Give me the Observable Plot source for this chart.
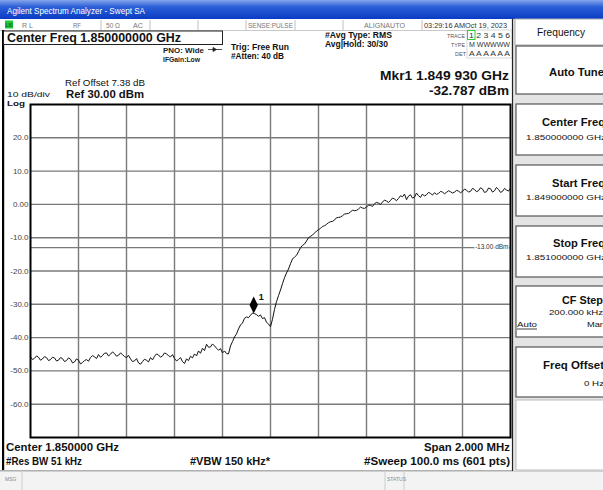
<!DOCTYPE html>
<html><head><meta charset="utf-8">
<script src="https://cdn.jsdelivr.net/npm/d3@7"></script>
<script src="https://cdn.jsdelivr.net/npm/@observablehq/plot@0.6"></script>
<style>
html,body{margin:0;padding:0;background:#fff;}
#screen{position:relative;width:603px;height:490px;overflow:hidden;}
#chrome{position:absolute;left:0;top:0;}
#plot{position:absolute;left:0;top:100px;}
</style></head><body>
<div id="screen">
<svg id="chrome" width="603" height="490" viewBox="0 0 603 490" font-family="Liberation Sans, Arial, sans-serif">
<defs><linearGradient id="tb" x1="0" y1="0" x2="0" y2="1"><stop offset="0" stop-color="#86a6ea"/><stop offset="0.35" stop-color="#2c60d8"/><stop offset="1" stop-color="#0a3cc4"/></linearGradient></defs>
<rect width="603" height="490" fill="#fff"/>
<rect x="0" y="0" width="603" height="19" fill="url(#tb)"/>
<text x="7" y="14" fill="#fff" font-size="8.5" textLength="138" lengthAdjust="spacingAndGlyphs">Agilent Spectrum Analyzer - Swept SA</text>
<!-- status row -->
<rect x="0" y="19" width="513" height="11" fill="#fff"/>
<line x1="0" x2="513" y1="30.5" y2="30.5" stroke="#c8c8c8"/>
<g stroke="#c0c0c0"><line x1="101" x2="101" y1="20" y2="30"/><line x1="150" x2="150" y1="20" y2="30"/><line x1="198" x2="198" y1="20" y2="30"/><line x1="246" x2="246" y1="20" y2="30"/><line x1="295" x2="295" y1="20" y2="30"/><line x1="343" x2="343" y1="20" y2="30"/><line x1="422" x2="422" y1="20" y2="30"/></g>
<rect x="5" y="20.5" width="8" height="8" fill="#22c832"/>
<text x="5.5" y="27" font-size="5" font-weight="bold" fill="#063" textLength="7" lengthAdjust="spacingAndGlyphs">LXI</text>
<g font-size="6.5" fill="#777">
<text x="22" y="28" textLength="11" lengthAdjust="spacingAndGlyphs">R L</text>
<text x="73" y="28" textLength="8" lengthAdjust="spacingAndGlyphs">RF</text>
<text x="106" y="28" textLength="14" lengthAdjust="spacingAndGlyphs">50 Ω</text>
<text x="133" y="28" textLength="10" lengthAdjust="spacingAndGlyphs">AC</text>
<text x="248" y="28" textLength="45" lengthAdjust="spacingAndGlyphs">SENSE:PULSE</text>
<text x="364" y="28" textLength="41" lengthAdjust="spacingAndGlyphs">ALIGNAUTO</text>
<text x="424" y="28" fill="#333" textLength="83" lengthAdjust="spacingAndGlyphs">03:29:16 AMOct 19, 2023</text>
</g>
<!-- left panel border -->
<rect x="2" y="30" width="2.2" height="441" fill="#000"/>
<rect x="3.5" y="31" width="219" height="13.5" fill="#fff" stroke="#222"/>
<text x="7" y="42" font-size="12" font-weight="bold" fill="#111" textLength="174" lengthAdjust="spacingAndGlyphs">Center Freq 1.850000000 GHz</text>
<text x="163" y="52.5" font-size="8" font-weight="bold" fill="#222" textLength="41" lengthAdjust="spacingAndGlyphs">PNO: Wide</text>
<path d="M208,49.5H222M213,47.5L216.5,49.5L213,51.5Z" stroke="#222" stroke-width="0.8" fill="#222"/>
<text x="163" y="61.5" font-size="7.5" font-weight="bold" fill="#222" textLength="37" lengthAdjust="spacingAndGlyphs">IFGain:Low</text>
<text x="231" y="50" font-size="9" font-weight="bold" fill="#111" textLength="58" lengthAdjust="spacingAndGlyphs">Trig: Free Run</text>
<text x="231" y="59" font-size="8.5" font-weight="bold" fill="#111" textLength="53" lengthAdjust="spacingAndGlyphs">#Atten: 40 dB</text>
<text x="325" y="38" font-size="9" font-weight="bold" fill="#111" textLength="67" lengthAdjust="spacingAndGlyphs">#Avg Type: RMS</text>
<text x="325" y="47" font-size="9" font-weight="bold" fill="#111" textLength="63" lengthAdjust="spacingAndGlyphs">Avg|Hold: 30/30</text>
<rect x="467" y="30" width="45" height="28" fill="#fff" stroke="#d8d8d8"/>
<rect x="467.5" y="30.5" width="7.5" height="9" fill="none" stroke="#3c3"/>
<g font-size="6" fill="#555">
<text x="447" y="37.5" textLength="18" lengthAdjust="spacingAndGlyphs">TRACE</text>
<text x="451" y="46.5" textLength="14" lengthAdjust="spacingAndGlyphs">TYPE</text>
<text x="455" y="55.5" textLength="11" lengthAdjust="spacingAndGlyphs">DET</text>
</g>
<g font-size="7.5" fill="#333">
<text x="469" y="38" textLength="41" lengthAdjust="spacingAndGlyphs">1 2 3 4 5 6</text>
<text x="469" y="47" textLength="41" lengthAdjust="spacingAndGlyphs">M WWWWW</text>
<text x="469" y="56" textLength="41" lengthAdjust="spacingAndGlyphs">A A A A A A</text>
</g>
<text x="65" y="86" font-size="9" fill="#111" textLength="80" lengthAdjust="spacingAndGlyphs">Ref Offset 7.38 dB</text>
<text x="66" y="98" font-size="11" font-weight="bold" fill="#111" textLength="78" lengthAdjust="spacingAndGlyphs">Ref 30.00 dBm</text>
<text x="7" y="96.5" font-size="8" fill="#111" textLength="43" lengthAdjust="spacingAndGlyphs">10 dB/div</text>
<text x="7" y="105.5" font-size="7.5" font-weight="bold" fill="#111" textLength="18" lengthAdjust="spacingAndGlyphs">Log</text>
<text x="509" y="80" text-anchor="end" font-size="12.5" font-weight="bold" fill="#111" textLength="129" lengthAdjust="spacingAndGlyphs">Mkr1 1.849 930 GHz</text>
<text x="509" y="95" text-anchor="end" font-size="12.5" font-weight="bold" fill="#111" textLength="80" lengthAdjust="spacingAndGlyphs">-32.787 dBm</text>
<text x="6" y="451" font-size="11" font-weight="bold" fill="#111" textLength="113" lengthAdjust="spacingAndGlyphs">Center 1.850000 GHz</text>
<text x="6" y="465" font-size="10" font-weight="bold" fill="#111" textLength="76" lengthAdjust="spacingAndGlyphs">#Res BW 51 kHz</text>
<text x="190" y="465" font-size="10" font-weight="bold" fill="#111" textLength="80" lengthAdjust="spacingAndGlyphs">#VBW 150 kHz*</text>
<text x="510" y="451" text-anchor="end" font-size="11" font-weight="bold" fill="#111" textLength="86" lengthAdjust="spacingAndGlyphs">Span 2.000 MHz</text>
<text x="510" y="465" text-anchor="end" font-size="10" font-weight="bold" fill="#111" textLength="146" lengthAdjust="spacingAndGlyphs">#Sweep  100.0 ms (601 pts)</text>
<line x1="0" x2="513" y1="470.5" y2="470.5" stroke="#b0b0b0"/>
<!-- bottom status -->
<rect x="0" y="471" width="603" height="19" fill="#f3f3f3"/>
<line x1="0" x2="603" y1="471.5" y2="471.5" stroke="#d0d0d0"/>
<g stroke="#ccc"><line x1="22" x2="22" y1="472" y2="490"/><line x1="385" x2="385" y1="472" y2="490"/><line x1="404" x2="404" y1="472" y2="490"/></g>
<text x="5" y="481" font-size="5" fill="#888">MSG</text>
<text x="387" y="481" font-size="5" fill="#888">STATUS</text>
<!-- right panel -->
<rect x="512" y="19" width="91" height="452" fill="#e4e4e4"/>
<line x1="512.5" x2="512.5" y1="19" y2="471" stroke="#222" stroke-width="1.2"/>
<rect x="515" y="19" width="95" height="26" fill="#fff" stroke="#aaa"/>
<text x="537" y="36" font-size="10" fill="#111" textLength="48" lengthAdjust="spacingAndGlyphs">Frequency</text>
<g fill="#fff" stroke="#555" stroke-width="1.2">
<rect x="516" y="46" width="95" height="48"/>
<rect x="516" y="104" width="95" height="51"/>
<rect x="516" y="165" width="95" height="51"/>
<rect x="516" y="226" width="95" height="51"/>
<rect x="516" y="286" width="95" height="51"/>
<rect x="516" y="347" width="95" height="50"/>
</g>
<rect x="516" y="400" width="95" height="70" fill="#fff" stroke="#bbb"/>
<g font-size="10" font-weight="bold" fill="#111">
<text x="549" y="76" textLength="55" lengthAdjust="spacingAndGlyphs">Auto Tune</text>
<text x="542" y="126" textLength="63" lengthAdjust="spacingAndGlyphs">Center Freq</text>
<text x="552" y="187" textLength="53" lengthAdjust="spacingAndGlyphs">Start Freq</text>
<text x="553" y="247" textLength="52" lengthAdjust="spacingAndGlyphs">Stop Freq</text>
<text x="562" y="304" textLength="41" lengthAdjust="spacingAndGlyphs">CF Step</text>
<text x="543" y="369" textLength="61" lengthAdjust="spacingAndGlyphs">Freq Offset</text>
</g>
<g font-size="8" fill="#111">
<text x="526" y="140" textLength="80" lengthAdjust="spacingAndGlyphs">1.850000000 GHz</text>
<text x="526" y="200" textLength="80" lengthAdjust="spacingAndGlyphs">1.849000000 GHz</text>
<text x="526" y="260" textLength="80" lengthAdjust="spacingAndGlyphs">1.851000000 GHz</text>
<text x="549" y="315" textLength="54" lengthAdjust="spacingAndGlyphs">200.000 kHz</text>
<text x="517" y="327" textLength="20" lengthAdjust="spacingAndGlyphs">Auto</text>
<text x="587" y="327" textLength="18" lengthAdjust="spacingAndGlyphs">Man</text>
<text x="584" y="386" textLength="20" lengthAdjust="spacingAndGlyphs">0 Hz</text>
</g>
<line x1="517" x2="537" y1="329" y2="329" stroke="#111" stroke-width="0.8"/>
</svg>
<div id="plot"></div>
</div>
<script>
// sweep definition
const startGHz = 1.849;
const stopGHz = 1.851;
// trace values (dBm), evenly spaced across the sweep
const traceDbm = [
 -45.8,-46.6,-46.2,-45.5,-45.9,-46.8,-46.4,-45.7,-46.0,-46.9,
 -46.6,-45.9,-46.1,-47.0,-46.8,-46.0,-46.3,-47.2,-46.9,-46.1,
 -46.5,-47.6,-47.3,-46.4,-46.8,-47.9,-47.5,-46.9,-46.6,-47.1,
 -46.0,-45.4,-45.8,-46.3,-45.1,-45.9,-45.4,-44.7,-44.6,-45.5,
 -45.0,-44.3,-44.8,-45.6,-45.3,-44.6,-45.1,-45.7,-46.0,-45.3,
 -46.4,-47.2,-47.0,-46.3,-47.6,-48.0,-47.2,-46.5,-46.8,-47.3,
 -46.0,-46.7,-45.6,-44.9,-45.2,-45.9,-45.5,-44.6,-44.9,-45.4,
 -45.8,-45.1,-46.3,-47.0,-46.6,-46.0,-47.2,-47.8,-46.4,-46.9,
 -45.6,-46.1,-44.9,-45.5,-44.0,-44.7,-43.2,-43.9,-42.0,-42.9,
 -42.8,-41.9,-42.5,-43.2,-43.8,-43.3,-44.6,-44.0,-44.8,-44.9,
 -42.5,-41.2,-39.8,-38.9,-37.4,-36.2,-35.6,-34.2,-33.8,-34.0,
 -33.3,-32.6,-32.8,-33.1,-33.6,-33.2,-34.3,-34.0,-35.4,-35.9,
 -36.7,-34.5,-31.5,-29.2,-27.4,-25.7,-23.8,-22.0,-20.6,-19.4,
 -17.8,-16.4,-15.8,-15.3,-14.2,-13.0,-12.3,-11.9,-11.0,-10.0,
 -9.6,-9.2,-8.6,-8.0,-7.6,-7.2,-6.6,-6.4,-6.0,-5.5,
 -5.2,-5.1,-4.7,-4.0,-3.9,-3.8,-3.4,-2.9,-2.8,-2.7,
 -2.3,-1.7,-1.9,-1.8,-1.4,-0.8,-1.1,-1.2,-0.8,-0.2,
 -0.3,-0.6,0.2,0.6,0.4,0.0,0.7,1.3,1.0,0.6,
 1.2,1.9,1.6,1.1,1.8,2.6,2.3,3.1,1.4,2.5,
 2.9,1.9,2.2,3.4,2.6,2.1,3.1,2.5,2.9,3.6,
 3.3,2.8,3.5,3.0,3.3,3.9,3.7,3.2,3.6,4.1,
 3.8,3.4,3.7,4.2,4.0,3.5,3.9,4.6,4.3,3.7,
 3.9,4.8,4.5,3.8,4.1,5.0,4.6,3.6,3.8,4.9,
 4.7,3.7,4.1,5.1,4.5,3.6,3.9,4.8,4.3,4.0,
 4.8
];
// marker
const markerGHz = [1.849930];
const markerDbm = [-32.787];
const markerLabel = ["1"];
// display line
const displayLineDbm = [-13];
const displayLineLabel = ["-13.00 dBm"];
// axes
const xGrid = [1.8492,1.8494,1.8496,1.8498,1.8500,1.8502,1.8504,1.8506,1.8508];
const yGrid = [20,10,0,-10,-20,-30,-40,-50,-60];
const yTickLabels = ["20.0","10.0","0.00","-10.0","-20.0","-30.0","-40.0","-50.0","-60.0"];

const n = traceDbm.length;
const trace = traceDbm.map((v,i)=>({f: startGHz + (stopGHz-startGHz)*i/(n-1), v}));
const marker = markerGHz.map((f,i)=>({f, v: markerDbm[i], label: markerLabel[i]}));

const diamond = {draw(ctx){ ctx.moveTo(0,-8.5); ctx.lineTo(4.2,0); ctx.lineTo(0,8.5); ctx.lineTo(-4.2,0); ctx.closePath(); }};

const chart = Plot.plot({
  width: 515, height: 342,
  marginLeft: 30, marginRight: 5, marginTop: 4, marginBottom: 5,
  style: {background: "transparent", overflow: "visible", fontFamily: "Liberation Sans Narrow, Liberation Sans, Arial, sans-serif"},
  x: {domain: [startGHz, stopGHz], axis: null},
  y: {domain: [-70, 30], axis: null},
  marks: [
    Plot.ruleX(xGrid, {stroke: "#7a7a7a", strokeWidth: 1.4}),
    Plot.ruleY(yGrid, {stroke: "#7a7a7a", strokeWidth: 1.4}),
    Plot.ruleY(displayLineDbm, {stroke: "#7a7a7a", strokeWidth: 1.2}),
    Plot.text(displayLineLabel, {frameAnchor: "right", y: () => displayLineDbm[0], text: d => d, dx: -2, dy: -1, fontSize: 6.5, fill: "#333", stroke: "white", strokeWidth: 2, textAnchor: "end"}),
    Plot.line(trace, {x: "f", y: "v", stroke: "#111", strokeWidth: 1}),
    Plot.dot(marker, {x: "f", y: "v", symbol: diamond, fill: "#000", stroke: "none", dy: -8.5}),
    Plot.text(marker, {x: "f", y: "v", text: "label", dx: 7.5, dy: -16, fontSize: 9, fontWeight: "bold", fill: "#111"}),
    Plot.frame({stroke: "#000", strokeWidth: 2}),
    Plot.text(yGrid, {frameAnchor: "left", y: d => d, text: (d,i) => yTickLabels[i], dx: -2, textAnchor: "end", fontSize: 8, fill: "#444"})
  ]
});
document.getElementById("plot").appendChild(chart);
</script>
</body></html>
